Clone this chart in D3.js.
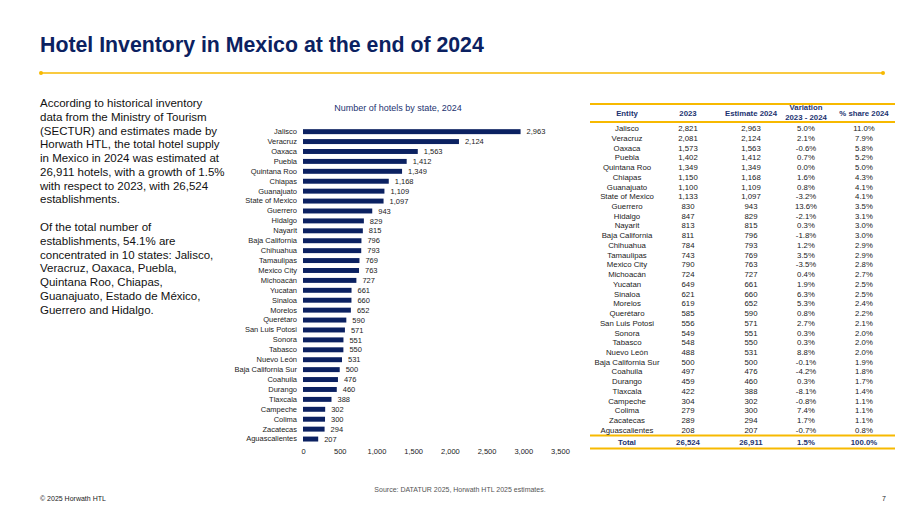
<!DOCTYPE html>
<html>
<head>
<meta charset="utf-8">
<script src="https://cdn.jsdelivr.net/npm/d3@7"></script>
<style>
  body { margin: 0; background: #fff; }
  svg { font-family: "Liberation Sans", Arial, sans-serif; }
</style>
</head>
<body>
<svg id="slide" width="920" height="518"></svg>
<script>
var states = ["Jalisco", "Veracruz", "Oaxaca", "Puebla", "Quintana Roo", "Chiapas", "Guanajuato",
  "State of Mexico", "Guerrero", "Hidalgo", "Nayarit", "Baja California", "Chihuahua", "Tamaulipas",
  "Mexico City", "Michoacán", "Yucatan", "Sinaloa", "Morelos", "Querétaro", "San Luis Potosi",
  "Sonora", "Tabasco", "Nuevo León", "Baja California Sur", "Coahuila", "Durango", "Tlaxcala",
  "Campeche", "Colima", "Zacatecas", "Aguascalientes"];
var hotels2023 = [2821, 2081, 1573, 1402, 1349, 1150, 1100, 1133, 830, 847, 813, 811, 784, 743,
  790, 724, 649, 621, 619, 585, 556, 549, 548, 488, 500, 497, 459, 422, 304, 279, 289, 208];
var hotels2024 = [2963, 2124, 1563, 1412, 1349, 1168, 1109, 1097, 943, 829, 815, 796, 793, 769,
  763, 727, 661, 660, 652, 590, 571, 551, 550, 531, 500, 476, 460, 388, 302, 300, 294, 207];
var variation = [5.0, 2.1, -0.6, 0.7, 0.0, 1.6, 0.8, -3.2, 13.6, -2.1, 0.3, -1.8, 1.2, 3.5,
  -3.5, 0.4, 1.9, 6.3, 5.3, 0.8, 2.7, 0.3, 0.3, 8.8, -0.1, -4.2, 0.3, -8.1, -0.8, 7.4, 1.7, -0.7];
var share = [11.0, 7.9, 5.8, 5.2, 5.0, 4.3, 4.1, 4.1, 3.5, 3.1, 3.0, 3.0, 2.9, 2.9,
  2.8, 2.7, 2.5, 2.5, 2.4, 2.2, 2.1, 2.0, 2.0, 2.0, 1.9, 1.8, 1.7, 1.4, 1.1, 1.1, 1.1, 0.8];
var totals = {y2023: 26524, y2024: 26911, variation: 1.5, share: 100.0};
var xTicks = [0, 500, 1000, 1500, 2000, 2500, 3000, 3500];

var navy = "#0b2161",
    gold = "#f7b900",
    textColor = "#222";

var svg = d3.select("#slide");
var fmt = d3.format(",");
// plain hyphen for negatives, like the source table
var pct = function(v) { return d3.format(".1f")(v).replace("\u2212", "-") + "%"; };

// title and rule
svg.append("text")
    .attr("x", 40).attr("y", 52)
    .attr("font-weight", "bold")
    .attr("font-size", 21.3)
    .attr("fill", navy)
    .text("Hotel Inventory in Mexico at the end of 2024");

svg.append("line")
    .attr("x1", 41).attr("x2", 883).attr("y1", 73).attr("y2", 73)
    .attr("stroke", gold).attr("stroke-width", 1.5);
[41, 883].forEach(function(cx) {
  svg.append("circle").attr("cx", cx).attr("cy", 73).attr("r", 2).attr("fill", gold);
});

// left text
var para1 = ["According to historical inventory", "data from the Ministry of Tourism",
  "(SECTUR) and estimates made by", "Horwath HTL, the total hotel supply",
  "in Mexico in 2024 was estimated at", "26,911 hotels, with a growth of 1.5%",
  "with respect to 2023, with 26,524", "establishments."];
var para2 = ["Of the total number of", "establishments, 54.1% are",
  "concentrated in 10 states: Jalisco,", "Veracruz, Oaxaca, Puebla,",
  "Quintana Roo, Chiapas,", "Guanajuato, Estado de México,", "Guerrero and Hidalgo."];

function para(lines, y0) {
  svg.append("g").selectAll("text")
    .data(lines)
    .enter().append("text")
      .attr("x", 40)
      .attr("y", function(d, i) { return y0 + i * 13.75; })
      .attr("font-size", 11.5)
      .attr("fill", "#111")
      .text(function(d) { return d; });
}
para(para1, 107);
para(para2, 231);

// bar chart
var x = d3.scaleLinear().domain([0, 3500]).range([303, 560]);
var y = d3.scaleBand().domain(states).range([126.7, 444]).paddingInner(0.5).paddingOuter(0.25);

svg.append("text")
    .attr("x", 398).attr("y", 111)
    .attr("text-anchor", "middle")
    .attr("font-size", 9)
    .attr("fill", "#1c3370")
    .text("Number of hotels by state, 2024");

var chart = svg.append("g");

chart.selectAll("rect")
  .data(states)
  .enter().append("rect")
    .attr("x", x(0))
    .attr("y", function(d) { return y(d); })
    .attr("width", function(d, i) { return x(hotels2024[i]) - x(0); })
    .attr("height", y.bandwidth())
    .attr("fill", navy);

chart.selectAll(".val")
  .data(states)
  .enter().append("text")
    .attr("class", "val")
    .attr("x", function(d, i) { return x(hotels2024[i]) + 6; })
    .attr("y", function(d) { return y(d) + y.bandwidth() / 2; })
    .attr("dy", "0.35em")
    .attr("font-size", 7.5)
    .attr("fill", textColor)
    .text(function(d, i) { return fmt(hotels2024[i]); });

chart.append("g")
    .attr("transform", "translate(" + x(0) + ",0)")
    .call(d3.axisLeft(y).tickSize(0).tickPadding(6))
    .call(function(g) { g.select(".domain").remove(); })
    .selectAll("text")
      .attr("font-size", 7.5)
      .attr("font-family", "'Liberation Sans', Arial, sans-serif")
      .attr("fill", textColor);

chart.append("g")
    .attr("transform", "translate(0,449)")
    .call(d3.axisBottom(x).tickValues(xTicks).tickSize(0).tickPadding(0).tickFormat(fmt))
    .call(function(g) { g.select(".domain").remove(); })
    .selectAll("text")
      .attr("font-size", 7.5)
      .attr("font-family", "'Liberation Sans', Arial, sans-serif")
      .attr("fill", textColor);

// table
var cols = [
  {head: ["Entity"], x: 627},
  {head: ["2023"], x: 688},
  {head: ["Estimate 2024"], x: 751},
  {head: ["Variation", "2023 - 2024"], x: 806},
  {head: ["% share 2024"], x: 864}
];
var tx0 = 590, tx1 = 895;
var ty = d3.scaleBand().domain(states).range([123.5, 435]);

var table = svg.append("g").attr("font-size", 7.8);

[104, 122, 435.5, 448.5].forEach(function(ly) {
  table.append("line").attr("x1", tx0).attr("x2", tx1).attr("y1", ly).attr("y2", ly)
      .attr("stroke", gold).attr("stroke-width", 2);
});

cols.forEach(function(c) {
  var n = c.head.length;
  c.head.forEach(function(h, k) {
    table.append("text")
        .attr("x", c.x)
        .attr("y", n === 1 ? 116 : 110 + k * 10)
        .attr("text-anchor", "middle")
        .attr("font-weight", "bold")
        .attr("fill", "#1c3370")
        .text(h);
  });
});

var rows = table.selectAll(".row")
  .data(states)
  .enter().append("g")
    .attr("class", "row")
    .attr("transform", function(d) { return "translate(0," + (ty(d) + ty.bandwidth() / 2) + ")"; });

var cellText = [
  function(d, i) { return d; },
  function(d, i) { return fmt(hotels2023[i]); },
  function(d, i) { return fmt(hotels2024[i]); },
  function(d, i) { return pct(variation[i]); },
  function(d, i) { return pct(share[i]); }
];
cols.forEach(function(c, k) {
  rows.append("text")
      .attr("x", c.x)
      .attr("dy", "0.35em")
      .attr("text-anchor", "middle")
      .attr("fill", textColor)
      .text(function(d) { return cellText[k](d, states.indexOf(d)); });
});

var totalRow = ["Total", fmt(totals.y2023), fmt(totals.y2024), pct(totals.variation), pct(totals.share)];
cols.forEach(function(c, k) {
  table.append("text")
      .attr("x", c.x)
      .attr("y", 442)
      .attr("dy", "0.35em")
      .attr("text-anchor", "middle")
      .attr("font-weight", "bold")
      .attr("fill", "#1c3370")
      .text(totalRow[k]);
});

// footer
svg.append("text")
    .attr("x", 460).attr("y", 492)
    .attr("text-anchor", "middle")
    .attr("font-size", 7)
    .attr("fill", "#555")
    .text("Source: DATATUR 2025, Horwath HTL 2025 estimates.");
svg.append("text")
    .attr("x", 40).attr("y", 501)
    .attr("font-size", 7)
    .attr("fill", "#222")
    .text("© 2025 Horwath HTL");
svg.append("text")
    .attr("x", 886).attr("y", 501)
    .attr("text-anchor", "end")
    .attr("font-size", 7)
    .attr("fill", "#222")
    .text("7");
</script>
</body>
</html>
